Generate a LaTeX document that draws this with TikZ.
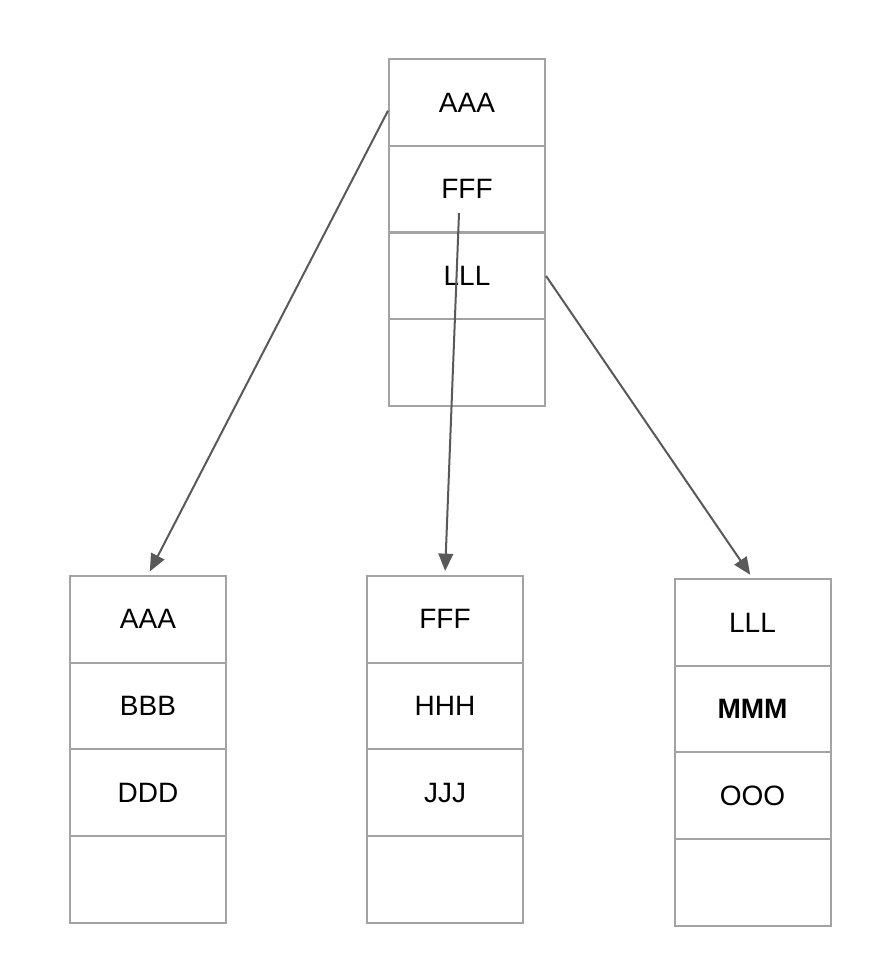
\documentclass[tikz,border=0pt]{standalone}
\usepackage{fontspec}
\setmainfont{Liberation Sans}
\usetikzlibrary{arrows.meta}
\definecolor{boxgray}{HTML}{A3A3A3}
\definecolor{linegray}{HTML}{595959}
\def\cellnode{\node[cell]}

\begin{document}
\begin{tikzpicture}[x=0.75pt,y=-0.75pt,
  cell/.style={draw=boxgray,line width=1.5pt,minimum width=117pt,minimum height=65pt,inner sep=0pt,font=\fontsize{21}{25}\selectfont},
  link/.style={draw=linegray,line width=1.5pt,shorten >=3pt,-{Triangle[length=13pt,width=11pt]}}]
\useasboundingbox (0,0) rectangle (894,968);
% root page
\cellnode (r1) at (467,102.4) {AAA};
\cellnode (r2) at (467,189.1) {FFF};
\cellnode (r3) at (467,275.9) {LLL};
\cellnode (r4) at (467,362.6) {};
% left leaf
\cellnode (a1) at (148,619.3) {AAA};
\cellnode (a2) at (148,706) {BBB};
\cellnode (a3) at (148,792.6) {DDD};
\cellnode (a4) at (148,879.4) {};
% middle leaf
\cellnode (f1) at (445,619.3) {FFF};
\cellnode (f2) at (445,706) {HHH};
\cellnode (f3) at (445,792.6) {JJJ};
\cellnode (f4) at (445,879.4) {};
% right leaf
\cellnode (l1) at (752.5,622.4) {LLL};
\cellnode (l2) at (752.5,709) {\textbf{MMM}};
\cellnode (l3) at (752.5,795.8) {OOO};
\cellnode (l4) at (752.5,882.5) {};
% links
\coordinate (fstart) at (459,213);
\draw[link] (r1.186) -- (a1.north);
\draw[link] (fstart) -- (f1.north);
\draw[link] (r3.east) -- (l1.north);
\end{tikzpicture}
\end{document}
